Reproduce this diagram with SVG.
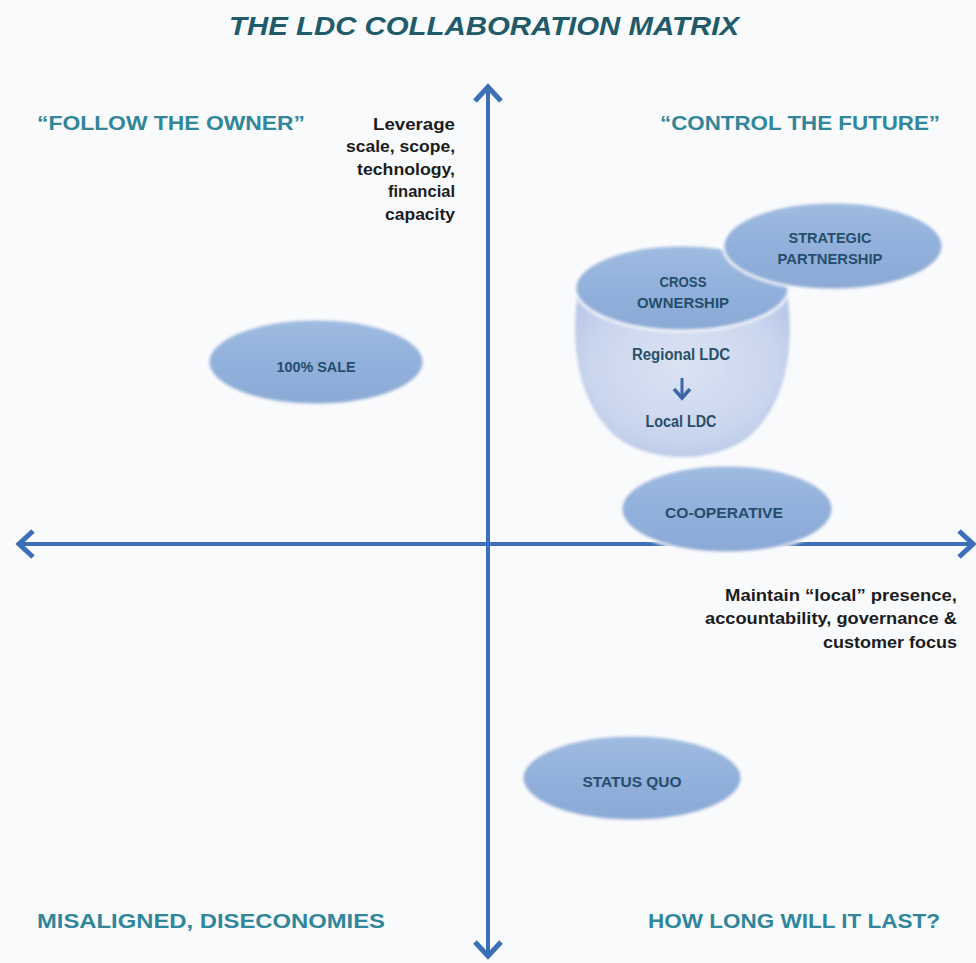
<svg xmlns="http://www.w3.org/2000/svg" width="976" height="963" viewBox="0 0 976 963">
  <defs>
    <style>
      .title { font-family: "Liberation Sans", Arial, sans-serif; font-weight: bold; font-style: italic; font-size: 26px; fill: #215a68; }
      .quad { font-family: "Liberation Sans", Arial, sans-serif; font-weight: bold; font-size: 20px; fill: #31869a; }
      .note { font-family: "Liberation Sans", Arial, sans-serif; font-weight: bold; font-size: 16px; fill: #1c1c1c; }
      .lbl { font-family: "Liberation Sans", Arial, sans-serif; font-weight: bold; font-size: 15px; fill: #244e6b; text-anchor: middle; }
      .lbl2 { font-family: "Liberation Sans", Arial, sans-serif; font-weight: bold; font-size: 16px; fill: #2a4f69; text-anchor: middle; }
      .axis { stroke: #3b70b8; stroke-width: 4; fill: none; }
      .head { stroke: #3b70b8; stroke-width: 5; fill: none; stroke-linecap: butt; stroke-linejoin: miter; }
      .oval { fill: url(#ovalFill); stroke: #ffffff; stroke-opacity: 0.8; stroke-width: 3; filter: url(#soft); }
    </style>
    <linearGradient id="ovalFill" x1="0" y1="0" x2="0" y2="1">
      <stop offset="0" stop-color="#9fbbe1"/>
      <stop offset="0.5" stop-color="#91b0db"/>
      <stop offset="1" stop-color="#8aa9d5"/>
    </linearGradient>
    <radialGradient id="bowlFill" cx="0.5" cy="0.45" r="0.6">
      <stop offset="0" stop-color="#dbe3f3"/>
      <stop offset="0.7" stop-color="#cad6ee"/>
      <stop offset="1" stop-color="#b7c7e6"/>
    </radialGradient>
    <filter id="soft" x="-10%" y="-20%" width="120%" height="140%">
      <feGaussianBlur stdDeviation="1.4"/>
    </filter>
  </defs>

  <rect width="976" height="963" fill="#f9fafc"/>

  <text class="title" x="484" y="35" text-anchor="middle" textLength="510" lengthAdjust="spacingAndGlyphs">THE LDC COLLABORATION MATRIX</text>

  <!-- quadrant captions -->
  <text class="quad" x="37" y="130" textLength="268" lengthAdjust="spacingAndGlyphs">“FOLLOW THE OWNER”</text>
  <text class="quad" x="660" y="130" textLength="280" lengthAdjust="spacingAndGlyphs">“CONTROL THE FUTURE”</text>
  <text class="quad" x="37" y="928" textLength="348" lengthAdjust="spacingAndGlyphs">MISALIGNED, DISECONOMIES</text>
  <text class="quad" x="648" y="928" textLength="292" lengthAdjust="spacingAndGlyphs">HOW LONG WILL IT LAST?</text>

  <!-- axis notes -->
  <g id="note-vertical" class="note" text-anchor="end">
    <text x="455" y="130" textLength="82" lengthAdjust="spacingAndGlyphs">Leverage</text>
    <text x="455" y="152" textLength="109" lengthAdjust="spacingAndGlyphs">scale, scope,</text>
    <text x="455" y="175" textLength="98" lengthAdjust="spacingAndGlyphs">technology,</text>
    <text x="455" y="197" textLength="67" lengthAdjust="spacingAndGlyphs">financial</text>
    <text x="455" y="220" textLength="70" lengthAdjust="spacingAndGlyphs">capacity</text>
  </g>
  <g id="note-horizontal" class="note" text-anchor="end">
    <text x="957" y="601" textLength="232" lengthAdjust="spacingAndGlyphs">Maintain “local” presence,</text>
    <text x="957" y="624" textLength="252" lengthAdjust="spacingAndGlyphs">accountability, governance &amp;</text>
    <text x="957" y="648" textLength="134" lengthAdjust="spacingAndGlyphs">customer focus</text>
  </g>

  <!-- axes -->
  <g id="connectors">
    <line class="axis" x1="488" y1="88" x2="488" y2="955"/>
    <line class="axis" x1="21" y1="544" x2="972" y2="544"/>
    <polyline class="head" points="475,101 488,87 501,101"/>
    <polyline class="head" points="475,942 488,956 501,942"/>
    <polyline class="head" points="33,531 19,544 33,557"/>
    <polyline class="head" points="959,531 973,544 959,557"/>
  </g>

  <g id="node-sale">
    <ellipse class="oval" cx="316" cy="362" rx="108" ry="43"/>
    <text class="lbl" x="316" y="372" textLength="79" lengthAdjust="spacingAndGlyphs">100% SALE</text>
  </g>

  <g id="node-regional">
    <path d="M577,292 C570,340 574,400 615,437 C650,465 715,465 750,437 C791,400 795,340 788,292 Z" fill="url(#bowlFill)" stroke="#ffffff" stroke-opacity="0.7" stroke-width="2" filter="url(#soft)"/>
    <text class="lbl2" x="681" y="360" textLength="98" lengthAdjust="spacingAndGlyphs">Regional LDC</text>
    <line x1="682" y1="378" x2="682" y2="397" stroke="#3b67a8" stroke-width="3"/>
    <polyline points="674,389 682,398 690,389" fill="none" stroke="#3b67a8" stroke-width="3.5"/>
    <text class="lbl2" x="681" y="427" textLength="71" lengthAdjust="spacingAndGlyphs">Local LDC</text>
  </g>

  <g id="node-cross">
    <ellipse class="oval" cx="682" cy="288" rx="107" ry="43"/>
    <text class="lbl" x="683" y="287" textLength="47" lengthAdjust="spacingAndGlyphs">CROSS</text>
    <text class="lbl" x="683" y="308" textLength="92" lengthAdjust="spacingAndGlyphs">OWNERSHIP</text>
  </g>

  <g id="node-strategic">
    <ellipse class="oval" cx="833" cy="246" rx="110" ry="44"/>
    <text class="lbl" x="830" y="243" textLength="83" lengthAdjust="spacingAndGlyphs">STRATEGIC</text>
    <text class="lbl" x="830" y="264" textLength="105" lengthAdjust="spacingAndGlyphs">PARTNERSHIP</text>
  </g>

  <g id="node-coop">
    <ellipse class="oval" cx="727" cy="509" rx="106" ry="44"/>
    <text class="lbl" x="724" y="518" textLength="118" lengthAdjust="spacingAndGlyphs">CO-OPERATIVE</text>
  </g>

  <g id="node-status">
    <ellipse class="oval" cx="632" cy="778" rx="110" ry="43"/>
    <text class="lbl" x="632" y="787" textLength="99" lengthAdjust="spacingAndGlyphs">STATUS QUO</text>
  </g>
</svg>
